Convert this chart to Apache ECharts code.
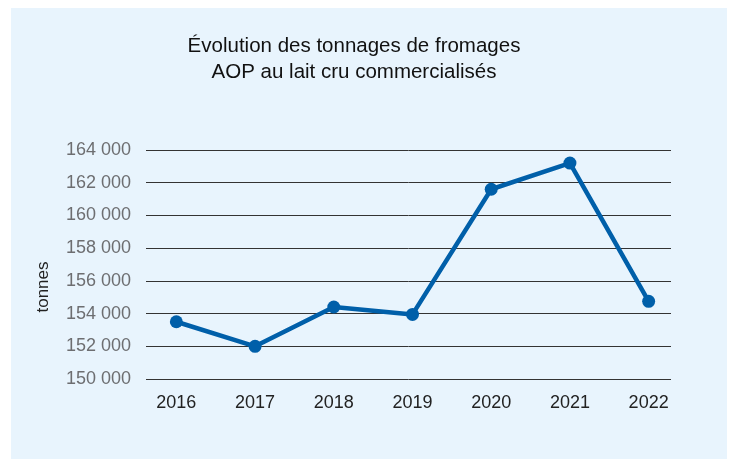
<!DOCTYPE html>
<html>
<head>
<meta charset="utf-8">
<script src="https://cdn.jsdelivr.net/npm/echarts@6/dist/echarts.min.js"></script>
<style>
  html, body { margin: 0; padding: 0; background: #fff; }
  #chart { width: 732px; height: 459px; }
</style>
</head>
<body>
<div id="chart"></div>
<script>
'use strict';
// données
const years = ['2016', '2017', '2018', '2019', '2020', '2021', '2022'];
const tonnages = [153500, 152000, 154400, 153950, 161600, 163200, 154750];
const yMin = 150000;
const yMax = 164000;
const yStep = 2000;

function fmtThousands(v) {
    return String(v).replace(/\B(?=(\d{3})+(?!\d))/g, ' ');
}

const chart = echarts.init(document.getElementById('chart'));
const option = {
    backgroundColor: '#ffffff',
    animation: false,
    graphic: [
        {
            type: 'rect',
            z: -10,
            shape: { x: 11, y: 8, width: 716, height: 451 },
            style: { fill: '#e8f4fd' },
        },
        {
            type: 'text',
            x: 354,
            y: 46,
            style: {
                text: 'Évolution des tonnages de fromages',
                textAlign: 'center',
                textVerticalAlign: 'middle',
                font: '20.5px "Liberation Sans", Arial, sans-serif',
                fill: '#111',
            },
        },
        {
            type: 'text',
            x: 354,
            y: 72,
            style: {
                text: 'AOP au lait cru commercialisés',
                textAlign: 'center',
                textVerticalAlign: 'middle',
                font: '20.5px "Liberation Sans", Arial, sans-serif',
                fill: '#111',
            },
        },
        {
            type: 'text',
            x: 43,
            y: 287,
            rotation: Math.PI / 2,
            style: {
                text: 'tonnes',
                textAlign: 'center',
                textVerticalAlign: 'middle',
                font: '17px "Liberation Sans", Arial, sans-serif',
                fill: '#222',
            },
        },
    ],
    // grille des lignes horizontales
    grid: [
        { left: 146, right: 61, top: 150, bottom: 80 },
        { left: 137, right: 44, top: 150, bottom: 80 },
    ],
    xAxis: [
        {
            gridIndex: 0,
            type: 'category',
            data: years,
            show: false,
        },
        {
            gridIndex: 1,
            type: 'category',
            data: years,
            boundaryGap: true,
            axisLine: { show: false },
            axisTick: { show: false },
            axisLabel: {
                margin: 15,
                color: '#222',
                fontSize: 18,
                fontFamily: 'Liberation Sans, Arial, sans-serif',
            },
        },
    ],
    yAxis: [
        {
            gridIndex: 0,
            type: 'value',
            min: yMin,
            max: yMax,
            interval: yStep,
            axisLine: { show: false },
            axisTick: { show: false },
            splitLine: { lineStyle: { color: '#333', width: 1 } },
            axisLabel: {
                margin: 15,
                color: '#6d6e71',
                fontSize: 18,
                fontFamily: 'Liberation Sans, Arial, sans-serif',
                formatter: fmtThousands,
            },
        },
        {
            gridIndex: 1,
            type: 'value',
            min: yMin,
            max: yMax,
            interval: yStep,
            show: false,
            splitLine: { show: false },
        },
    ],
    series: [
        {
            type: 'line',
            xAxisIndex: 1,
            yAxisIndex: 1,
            data: tonnages,
            symbol: 'circle',
            symbolSize: 13,
            lineStyle: { color: '#005fa9', width: 4.5 },
            itemStyle: { color: '#005fa9' },
        },
    ],
};
chart.setOption(option);
window.addEventListener('resize', () => chart.resize());
</script>
</body>
</html>
